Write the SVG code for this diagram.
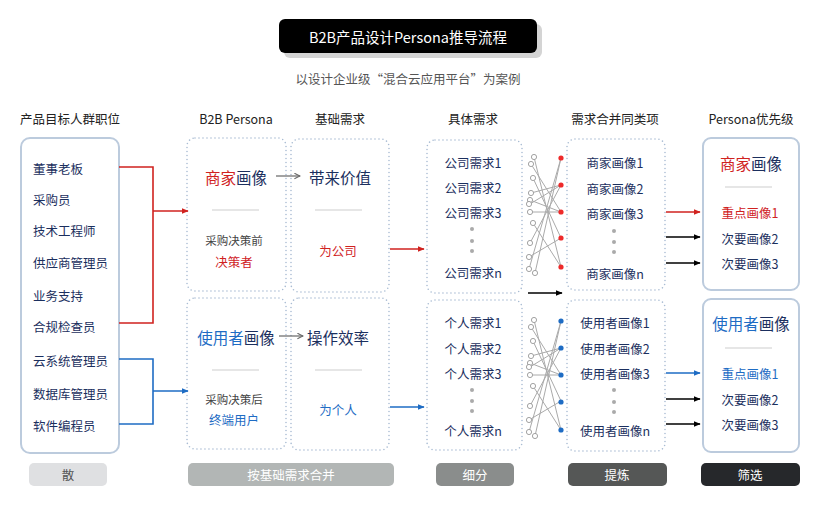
<svg xmlns="http://www.w3.org/2000/svg" width="820" height="506" viewBox="0 0 820 506">
<defs>
<style>
text{font-family:"Noto Sans CJK SC","Noto Sans",sans-serif;dominant-baseline:central;text-anchor:middle}
.nv{fill:#1b2f5e}
.red{fill:#d0221f}
.blu{fill:#1e6cc4}
.hdr{font-size:12.5px;fill:#222}
.it{font-size:12.5px;fill:#1b2f5e;text-anchor:start}
.dot{fill:none;stroke:#a9bcd3;stroke-width:1.6;stroke-dasharray:0 4;stroke-linecap:round}
.solid{fill:#fff;stroke:#bccbdd;stroke-width:2}
.sep{stroke:#dedede;stroke-width:1.5}
.big{font-size:15.5px}
.mid{font-size:12.5px}
.sm{font-size:11.5px;fill:#444}
.cl{stroke:#aaa;stroke-width:1;fill:none}
.hc{fill:#fff;stroke:#999;stroke-width:0.9}
.gd{fill:#aaa}
.tag{font-size:12.5px}
</style>
<marker id="ar" viewBox="0 0 10 10" refX="9" refY="5" markerWidth="7" markerHeight="7" orient="auto" markerUnits="userSpaceOnUse"><path d="M0,1 L10,5 L0,9 z" fill="#d0221f"/></marker>
<marker id="ab" viewBox="0 0 10 10" refX="9" refY="5" markerWidth="7" markerHeight="7" orient="auto" markerUnits="userSpaceOnUse"><path d="M0,1 L10,5 L0,9 z" fill="#1e6cc4"/></marker>
<marker id="ak" viewBox="0 0 10 10" refX="9" refY="5" markerWidth="7" markerHeight="7" orient="auto" markerUnits="userSpaceOnUse"><path d="M0,1 L10,5 L0,9 z" fill="#000"/></marker>
<marker id="ag" viewBox="0 0 10 10" refX="9" refY="5" markerWidth="7" markerHeight="7" orient="auto" markerUnits="userSpaceOnUse"><path d="M1,1 L9,5 L1,9" fill="none" stroke="#666" stroke-width="1.5"/></marker>
<g id="cross">
<line class="cl" x1="534" y1="157" x2="561" y2="267"/>
<line class="cl" x1="531" y1="164" x2="561" y2="212"/>
<line class="cl" x1="533" y1="178" x2="561" y2="238"/>
<line class="cl" x1="531" y1="193" x2="561" y2="185"/>
<line class="cl" x1="530" y1="200" x2="561" y2="212"/>
<line class="cl" x1="530" y1="204" x2="561" y2="185"/>
<line class="cl" x1="530" y1="212" x2="561" y2="212"/>
<line class="cl" x1="533" y1="223" x2="561" y2="267"/>
<line class="cl" x1="530" y1="243" x2="561" y2="185"/>
<line class="cl" x1="529" y1="257" x2="561" y2="238"/>
<line class="cl" x1="529" y1="269" x2="561" y2="158"/>
<line class="cl" x1="535" y1="273" x2="561" y2="158"/>
<circle class="hc" cx="534" cy="157" r="2.6"/>
<circle class="hc" cx="531" cy="164" r="2.6"/>
<circle class="hc" cx="533" cy="178" r="2.6"/>
<circle class="hc" cx="531" cy="193" r="2.6"/>
<circle class="hc" cx="530" cy="200" r="2.6"/>
<circle class="hc" cx="529" cy="204" r="2.6"/>
<circle class="hc" cx="530" cy="212" r="2.6"/>
<circle class="hc" cx="533" cy="223" r="2.6"/>
<circle class="hc" cx="530" cy="243" r="2.6"/>
<circle class="hc" cx="529" cy="257" r="2.6"/>
<circle class="hc" cx="529" cy="269" r="2.6"/>
<circle class="hc" cx="535" cy="273" r="2.6"/>
</g>
</defs>
<rect width="820" height="506" fill="#fff"/>

<g id="title">
<rect x="284" y="24" width="258" height="34" rx="6" fill="#d4d4d4"/>
<rect x="279" y="19" width="258" height="34" rx="6" fill="#000"/>
<text x="408" y="36" font-size="14.5" fill="#fff">B2B产品设计Persona推导流程</text>
<text x="408" y="78" font-size="12.5" fill="#555">以设计企业级“混合云应用平台”为案例</text>
</g>

<g id="headers">
<text class="hdr" x="70" y="118">产品目标人群职位</text>
<text class="hdr" x="236" y="118">B2B Persona</text>
<text class="hdr" x="340" y="118">基础需求</text>
<text class="hdr" x="473" y="118">具体需求</text>
<text class="hdr" x="615" y="118">需求合并同类项</text>
<text class="hdr" x="751" y="118">Persona优先级</text>
</g>

<g id="roles">
<rect class="solid" x="21" y="138" width="98" height="315" rx="9" stroke-width="1.5"/>
<text class="it" x="33" y="168">董事老板</text>
<text class="it" x="33" y="199">采购员</text>
<text class="it" x="33" y="230">技术工程师</text>
<text class="it" x="33" y="262">供应商管理员</text>
<text class="it" x="33" y="295">业务支持</text>
<text class="it" x="33" y="326">合规检查员</text>
<text class="it" x="33" y="360">云系统管理员</text>
<text class="it" x="33" y="393">数据库管理员</text>
<text class="it" x="33" y="425">软件编程员</text>
</g>

<g id="persona-merchant">
<rect class="dot" x="187" y="138" width="99" height="153" rx="8"/>
<text class="big" x="236" y="177"><tspan class="red">商家</tspan><tspan class="nv">画像</tspan></text>
<line class="sep" x1="212" y1="210" x2="259" y2="210"/>
<text class="sm" x="234" y="240">采购决策前</text>
<text class="mid red" x="234" y="261">决策者</text>
</g>
<g id="need-company">
<rect class="dot" x="291" y="139" width="98" height="153" rx="8"/>
<text class="big nv" x="340" y="177">带来价值</text>
<line class="sep" x1="315" y1="210" x2="362" y2="210"/>
<text class="mid red" x="338" y="250">为公司</text>
</g>
<g id="persona-user">
<rect class="dot" x="187" y="298" width="99" height="151" rx="8"/>
<text class="big" x="236" y="337"><tspan class="blu">使用者</tspan><tspan class="nv">画像</tspan></text>
<line class="sep" x1="212" y1="370" x2="259" y2="370"/>
<text class="sm" x="234" y="399">采购决策后</text>
<text class="mid blu" x="234" y="419">终端用户</text>
</g>
<g id="need-user">
<rect class="dot" x="291" y="298" width="98" height="152" rx="8"/>
<text class="big nv" x="338" y="337">操作效率</text>
<line class="sep" x1="315" y1="370" x2="362" y2="370"/>
<text class="mid blu" x="338" y="409">为个人</text>
</g>

<g id="specific-company">
<rect class="dot" x="427" y="140" width="95" height="153" rx="8"/>
<text class="mid nv" x="473" y="162">公司需求1</text>
<text class="mid nv" x="473" y="187">公司需求2</text>
<text class="mid nv" x="473" y="212">公司需求3</text>
<circle class="gd" cx="472" cy="229" r="2"/>
<circle class="gd" cx="472" cy="241" r="2"/>
<circle class="gd" cx="472" cy="251" r="2"/>
<text class="mid nv" x="473" y="272">公司需求n</text>
</g>
<g id="specific-user">
<rect class="dot" x="427" y="300" width="95" height="150" rx="8"/>
<text class="mid nv" x="473" y="322">个人需求1</text>
<text class="mid nv" x="473" y="348">个人需求2</text>
<text class="mid nv" x="473" y="373">个人需求3</text>
<circle class="gd" cx="472" cy="390" r="2"/>
<circle class="gd" cx="472" cy="401" r="2"/>
<circle class="gd" cx="472" cy="411" r="2"/>
<text class="mid nv" x="473" y="430">个人需求n</text>
</g>

<g id="merge-company">
<rect class="dot" x="567" y="139" width="98" height="151" rx="8"/>
<text class="mid nv" x="615" y="162">商家画像1</text>
<text class="mid nv" x="615" y="188">商家画像2</text>
<text class="mid nv" x="615" y="213">商家画像3</text>
<circle class="gd" cx="614" cy="231" r="2"/>
<circle class="gd" cx="614" cy="242" r="2"/>
<circle class="gd" cx="614" cy="252" r="2"/>
<text class="mid nv" x="615" y="273">商家画像n</text>
</g>
<g id="merge-user">
<rect class="dot" x="567" y="300" width="98" height="151" rx="8"/>
<text class="mid nv" x="615" y="322">使用者画像1</text>
<text class="mid nv" x="615" y="348">使用者画像2</text>
<text class="mid nv" x="615" y="373">使用者画像3</text>
<circle class="gd" cx="614" cy="390" r="2"/>
<circle class="gd" cx="614" cy="402" r="2"/>
<circle class="gd" cx="614" cy="412" r="2"/>
<text class="mid nv" x="615" y="430">使用者画像n</text>
</g>

<g id="priority-company">
<rect class="solid" x="703" y="138" width="96" height="152" rx="8"/>
<text class="big" x="751" y="163"><tspan class="red">商家</tspan><tspan class="nv">画像</tspan></text>
<line class="sep" x1="725" y1="187" x2="772" y2="187"/>
<text class="mid red" x="750" y="212">重点画像1</text>
<text class="mid nv" x="750" y="238">次要画像2</text>
<text class="mid nv" x="750" y="263">次要画像3</text>
</g>
<g id="priority-user">
<rect class="solid" x="703" y="299" width="96" height="153" rx="8"/>
<text class="big" x="751" y="323"><tspan class="blu">使用者</tspan><tspan class="nv">画像</tspan></text>
<line class="sep" x1="725" y1="348" x2="772" y2="348"/>
<text class="mid blu" x="750" y="373">重点画像1</text>
<text class="mid nv" x="750" y="399">次要画像2</text>
<text class="mid nv" x="750" y="424">次要画像3</text>
</g>

<g id="connectors">
<polyline points="119,167 153,167 153,323 119,323" fill="none" stroke="#d0221f" stroke-width="1.6"/>
<line x1="153" y1="211" x2="188" y2="211" stroke="#d0221f" stroke-width="1.6" marker-end="url(#ar)"/>
<polyline points="119,359 153,359 153,424 119,424" fill="none" stroke="#1e6cc4" stroke-width="1.6"/>
<line x1="153" y1="391" x2="188" y2="391" stroke="#1e6cc4" stroke-width="1.6" marker-end="url(#ab)"/>
<line x1="276" y1="176" x2="300" y2="176" stroke="#666" stroke-width="1.2" marker-end="url(#ag)"/>
<line x1="279" y1="336" x2="303" y2="336" stroke="#666" stroke-width="1.2" marker-end="url(#ag)"/>
<line x1="390" y1="249" x2="424" y2="249" stroke="#d0221f" stroke-width="1.6" marker-end="url(#ar)"/>
<line x1="390" y1="407" x2="424" y2="407" stroke="#1e6cc4" stroke-width="1.6" marker-end="url(#ab)"/>
<line x1="528" y1="293" x2="562" y2="293" stroke="#000" stroke-width="1.6" marker-end="url(#ak)"/>
<use href="#cross"/>
<circle cx="561" cy="158" r="2.6" fill="#ee2a2a"/>
<circle cx="561" cy="185" r="2.6" fill="#ee2a2a"/>
<circle cx="561" cy="212" r="2.6" fill="#ee2a2a"/>
<circle cx="561" cy="238" r="2.6" fill="#ee2a2a"/>
<circle cx="561" cy="267" r="2.6" fill="#ee2a2a"/>
<use href="#cross" transform="translate(0,163)"/>
<circle cx="561" cy="321" r="2.6" fill="#1e6cc4"/>
<circle cx="561" cy="348" r="2.6" fill="#1e6cc4"/>
<circle cx="561" cy="375" r="2.6" fill="#1e6cc4"/>
<circle cx="561" cy="402" r="2.6" fill="#1e6cc4"/>
<circle cx="561" cy="430" r="2.6" fill="#1e6cc4"/>
<line x1="666" y1="212" x2="700" y2="212" stroke="#d0221f" stroke-width="1.6" marker-end="url(#ar)"/>
<line x1="666" y1="237" x2="700" y2="237" stroke="#000" stroke-width="1.6" marker-end="url(#ak)"/>
<line x1="666" y1="263" x2="700" y2="263" stroke="#000" stroke-width="1.6" marker-end="url(#ak)"/>
<line x1="666" y1="373" x2="700" y2="373" stroke="#1e6cc4" stroke-width="1.6" marker-end="url(#ab)"/>
<line x1="666" y1="399" x2="700" y2="399" stroke="#000" stroke-width="1.6" marker-end="url(#ak)"/>
<line x1="666" y1="424" x2="700" y2="424" stroke="#000" stroke-width="1.6" marker-end="url(#ak)"/>
</g>

<g id="stages">
<rect x="29" y="463" width="78" height="23" rx="5" fill="#dfe0e2"/>
<text class="tag" x="68" y="474.5" fill="#555">散</text>
<rect x="188" y="463" width="206" height="23" rx="5" fill="#b2b6b5"/>
<text class="tag" x="291" y="474.5" fill="#fff">按基础需求合并</text>
<rect x="436" y="463" width="78" height="23" rx="5" fill="#8a8d8c"/>
<text class="tag" x="475" y="474.5" fill="#fff">细分</text>
<rect x="568" y="463" width="99" height="23" rx="5" fill="#555756"/>
<text class="tag" x="617" y="474.5" fill="#fff">提炼</text>
<rect x="701" y="463" width="99" height="23" rx="5" fill="#26282b"/>
<text class="tag" x="750" y="474.5" fill="#fff">筛选</text>
</g>
</svg>
